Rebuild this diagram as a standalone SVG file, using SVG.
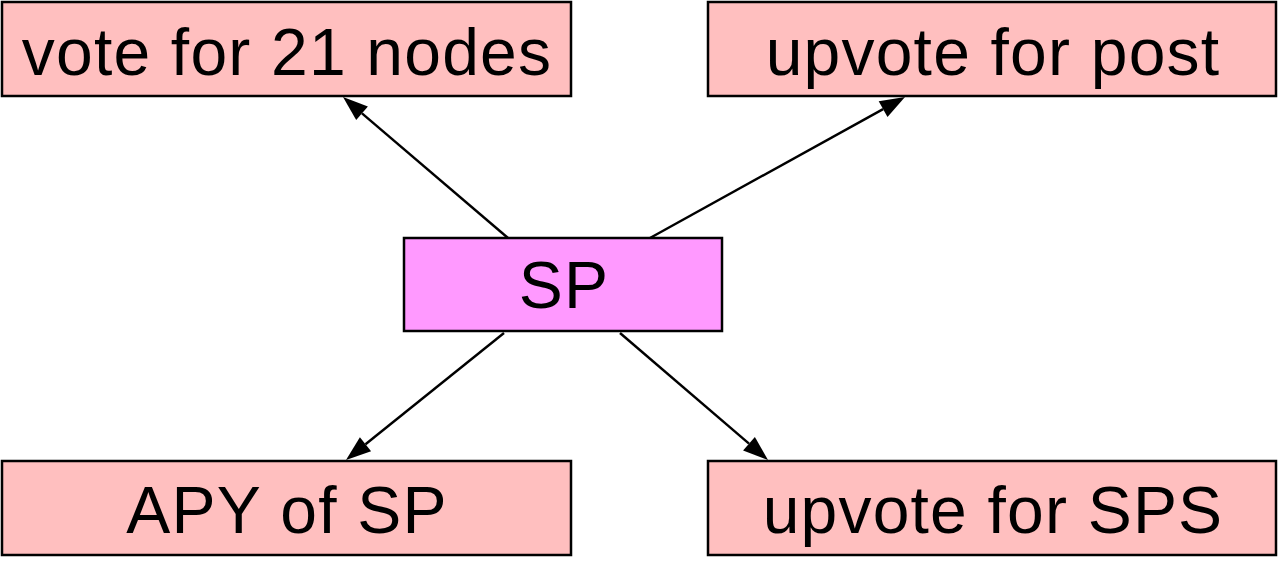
<svg xmlns="http://www.w3.org/2000/svg" width="1280" height="568" viewBox="0 0 1280 568">
<style>
.box{fill:#FFBFBF;stroke:#000;stroke-width:2.5}
.sp{fill:#FF99FF;stroke:#000;stroke-width:2.5}
.lbl{font-family:"Liberation Sans",Arial,sans-serif;font-size:66px;letter-spacing:1.2px;fill:#000;text-anchor:middle}
.edge{stroke:#000;stroke-width:2.4;fill:none}
.head{fill:#000}
</style>
<g id="connectors">
<path class="edge" d="M508,238 L362,113.3"/>
<polygon class="head" points="343,97 367.9,106.4 356.2,120.1"/>
<path class="edge" d="M650,238 L883.1,109.1"/>
<polygon class="head" points="905,97 887.5,117 878.7,101.2"/>
<path class="edge" d="M504,333 L365.5,444.3"/>
<polygon class="head" points="346,460 371.1,451.3 359.9,437.3"/>
<path class="edge" d="M620,333 L749,443.7"/>
<polygon class="head" points="768,460 743.1,450.5 754.9,436.9"/>
</g>
<g id="node-vote21">
<rect class="box" x="2" y="2" width="569" height="94"/>
<text class="lbl" x="287" y="75">vote for 21 nodes</text>
</g>
<g id="node-upvote-post">
<rect class="box" x="708" y="2" width="568" height="94"/>
<text class="lbl" x="993" y="75">upvote for post</text>
</g>
<g id="node-sp">
<rect class="sp" x="404" y="238" width="318" height="93"/>
<text class="lbl" x="564" y="308">SP</text>
</g>
<g id="node-apy">
<rect class="box" x="2" y="461" width="569" height="94"/>
<text class="lbl" x="287" y="533">APY of SP</text>
</g>
<g id="node-upvote-sps">
<rect class="box" x="708" y="461" width="568" height="94"/>
<text class="lbl" x="993" y="533">upvote for SPS</text>
</g>
</svg>
